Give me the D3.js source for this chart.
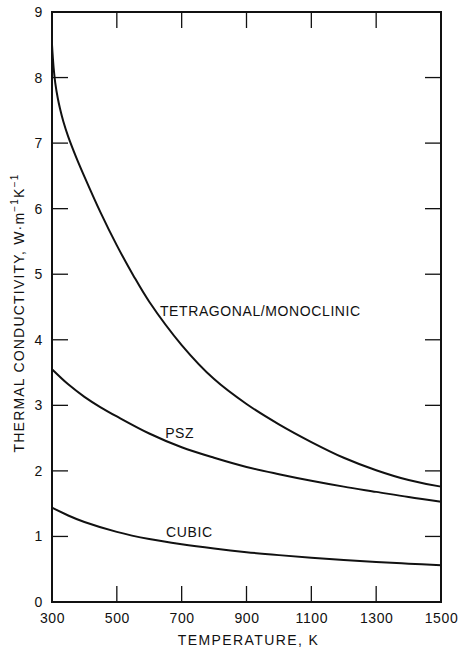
<!DOCTYPE html>
<html>
<head>
<meta charset="utf-8">
<script src="https://cdn.jsdelivr.net/npm/d3@7/dist/d3.min.js"></script>
<style>
  body { margin: 0; background: #fff; }
  svg { display: block; }
  text { font-family: "Liberation Sans", Arial, Helvetica, sans-serif; fill: #111; }
</style>
</head>
<body>
<svg></svg>
<script>
// waarden (temperatuur in K, geleiding in W/mK)
var tetraTemp = [300, 305, 310, 318, 325, 335, 350, 375, 400, 450, 500, 550, 600, 700, 800, 900, 1000, 1100, 1200, 1300, 1400, 1500];
var tetraK    = [8.5, 8.15, 7.92, 7.68, 7.52, 7.33, 7.1, 6.78, 6.49, 5.94, 5.44, 4.99, 4.58, 3.92, 3.4, 3.02, 2.71, 2.44, 2.2, 2.01, 1.86, 1.76];

var pszTemp = [300, 350, 400, 450, 500, 600, 700, 800, 900, 1000, 1100, 1200, 1300, 1400, 1500];
var pszK    = [3.55, 3.32, 3.13, 2.97, 2.83, 2.57, 2.36, 2.2, 2.06, 1.95, 1.85, 1.76, 1.68, 1.60, 1.53];

var cubicTemp = [300, 350, 400, 500, 600, 700, 800, 900, 1000, 1100, 1200, 1300, 1400, 1500];
var cubicK    = [1.44, 1.32, 1.22, 1.07, 0.96, 0.88, 0.815, 0.76, 0.715, 0.675, 0.64, 0.61, 0.585, 0.56];

var xTicks = [300, 500, 700, 900, 1100, 1300, 1500];
var yTicks = [0, 1, 2, 3, 4, 5, 6, 7, 8, 9];

// marges
var margin = { top: 12, right: 20, bottom: 54, left: 52 };
var width = 461 - margin.left - margin.right,
    height = 656 - margin.top - margin.bottom;

var svg = d3.select('svg')
    .attr('width', 461)
    .attr('height', 656)
  .append('g')
    .attr('transform', 'translate(' + margin.left + ',' + margin.top + ')');

var x = d3.scaleLinear().domain([300, 1500]).range([0, width]);
var y = d3.scaleLinear().domain([0, 9]).range([height, 0]);

var tickLen = 16;

// assen: alleen de labels via d3-axis, de streepjes tekenen we zelf
var xBottom = d3.axisBottom(x).tickValues(xTicks).tickSize(0).tickPadding(11).tickFormat(d3.format('d'));
var yLeft = d3.axisLeft(y).tickValues(yTicks).tickSize(0).tickPadding(9).tickFormat(d3.format('d'));

function styleAxis(g) {
  g.select('.domain').remove();
  g.selectAll('.tick text').style('font-size', '14px').style('letter-spacing', '0.6px').attr('fill', '#111');
}

svg.append('g').attr('transform', 'translate(0,' + height + ')').call(xBottom).call(styleAxis);
svg.append('g').call(yLeft).call(styleAxis);

// kader
svg.append('rect')
  .attr('x', 0).attr('y', 0)
  .attr('width', width).attr('height', height)
  .attr('fill', 'none')
  .attr('stroke', '#111')
  .attr('stroke-width', 2);

// naar binnen gerichte streepjes op alle vier zijden
var inner = xTicks.slice(1, -1);
var ticks = svg.append('g').attr('stroke', '#111').attr('stroke-width', 1.3);

ticks.selectAll('.tb').data(inner).enter().append('line')
  .attr('x1', function(d) { return x(d); }).attr('x2', function(d) { return x(d); })
  .attr('y1', height).attr('y2', height - tickLen);
ticks.selectAll('.tt').data(inner).enter().append('line')
  .attr('x1', function(d) { return x(d); }).attr('x2', function(d) { return x(d); })
  .attr('y1', 0).attr('y2', tickLen);

var innerY = yTicks.slice(1, -1);
ticks.selectAll('.tl').data(innerY).enter().append('line')
  .attr('y1', function(d) { return y(d); }).attr('y2', function(d) { return y(d); })
  .attr('x1', 0).attr('x2', tickLen);
ticks.selectAll('.tr').data(innerY).enter().append('line')
  .attr('y1', function(d) { return y(d); }).attr('y2', function(d) { return y(d); })
  .attr('x1', width).attr('x2', width - tickLen);

// de drie curves
var line = d3.line()
  .x(function(d) { return x(d[0]); })
  .y(function(d) { return y(d[1]); })
  .curve(d3.curveCatmullRom.alpha(0.5));

var series = [
  d3.zip(tetraTemp, tetraK),
  d3.zip(pszTemp, pszK),
  d3.zip(cubicTemp, cubicK)
];

svg.selectAll('.curve')
  .data(series)
  .enter()
  .append('path')
  .attr('class', 'curve')
  .attr('fill', 'none')
  .attr('stroke', '#111')
  .attr('stroke-width', 2)
  .attr('d', line);

// labels bij de curves
var labels = [
  { text: 'TETRAGONAL/MONOCLINIC', t: 633, k: 4.36 },
  { text: 'PSZ', t: 649, k: 2.5 },
  { text: 'CUBIC', t: 652, k: 0.99 }
];

svg.selectAll('.lbl')
  .data(labels)
  .enter()
  .append('text')
  .attr('class', 'lbl')
  .attr('x', function(d) { return x(d.t); })
  .attr('y', function(d) { return y(d.k); })
  .style('font-size', '14px')
  .style('letter-spacing', '0.6px')
  .text(function(d) { return d.text; });

// as titels
svg.append('text')
  .attr('x', width / 2 + 2)
  .attr('y', height + 43)
  .attr('text-anchor', 'middle')
  .style('font-size', '14px')
  .style('letter-spacing', '1.4px')
  .text('TEMPERATURE, K');

var yTitle = svg.append('text')
  .attr('transform', 'translate(-28,' + (height / 2 + 6) + ') rotate(-90)')
  .attr('text-anchor', 'middle')
  .style('font-size', '14px')
  .style('letter-spacing', '1.2px');

yTitle.append('tspan').text('THERMAL CONDUCTIVITY, W\u00B7m');
yTitle.append('tspan').attr('dy', -6).style('font-size', '10px').text('\u2212\u0031');
yTitle.append('tspan').attr('dy', 6).text('K');
yTitle.append('tspan').attr('dy', -6).style('font-size', '10px').text('\u2212\u0031');
</script>
</body>
</html>
